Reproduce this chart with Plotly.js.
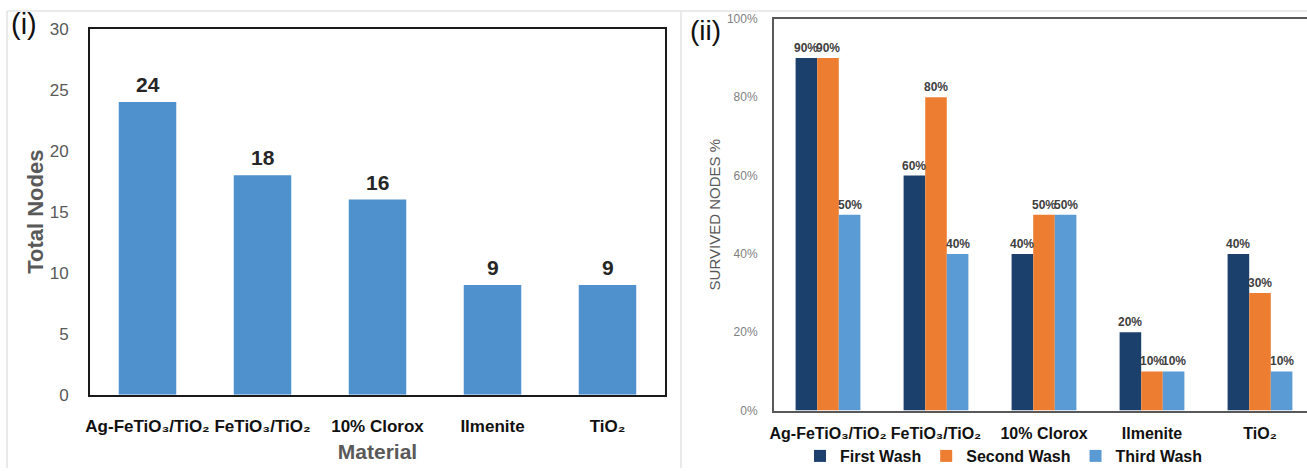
<!DOCTYPE html>
<html>
<head>
<meta charset="utf-8">
<script src="https://cdn.plot.ly/plotly-3.0.1.min.js"></script>
<style>html,body{margin:0;padding:0;background:#fff;}#chart{width:1307px;height:473px;}</style>
</head>
<body>
<div id="chart"></div>
<script>
// ---- data ----
const materials = ["Ag-FeTiO\u2083/TiO\u2082", "FeTiO\u2083/TiO\u2082", "10% Clorox", "Ilmenite", "TiO\u2082"];
const totalNodes = [24, 18, 16, 9, 9];
const washNames = ["First Wash", "Second Wash", "Third Wash"];
const firstWash = [90, 60, 40, 20, 40];
const secondWash = [90, 80, 50, 10, 30];
const thirdWash = [50, 40, 50, 10, 10];
const leftYTicks = [0, 5, 10, 15, 20, 25, 30];
const rightYTicks = [0, 20, 40, 60, 80, 100];

const W = 1307, H = 473;
const px = v => v / W;
const py = v => (H - v) / H;

const FONT = "Arial, 'Liberation Sans', 'DejaVu Sans', sans-serif";
const washColors = ["#1b406c", "#ed7d31", "#5b9bd5"];
const CAT_PX = 108;          // right panel category width in px
const BARGAP = 0.4;
const BAR_PX = CAT_PX * (1 - BARGAP) / 3;

const traces = [];
traces.push({
  type: "bar", x: materials, y: totalNodes, xaxis: "x", yaxis: "y",
  width: 0.5, marker: {color: "#4f91cd"}, showlegend: false,
  hoverinfo: "x+y"
});
const washData = [firstWash, secondWash, thirdWash];
washData.forEach((vals, i) => {
  traces.push({
    type: "bar", name: "<b>" + washNames[i] + "</b>", x: materials, y: vals, xaxis: "x2", yaxis: "y2",
    marker: {color: washColors[i]},
    hoverinfo: "x+y"
  });
});

// value labels
const annotations = [];
materials.forEach((m, j) => {
  annotations.push({
    text: "<b>" + totalNodes[j] + "</b>", x: m, y: totalNodes[j], xref: "x", yref: "y",
    xanchor: "center", yanchor: "bottom", yshift: 4, showarrow: false,
    font: {family: FONT, size: 21, color: "#262626"}
  });
});
washData.forEach((vals, i) => {
  vals.forEach((v, j) => {
    annotations.push({
      text: "<b>" + v + "%</b>", x: materials[j], y: v, xref: "x2", yref: "y2",
      xanchor: "center", yanchor: "bottom", xshift: (i - 1) * BAR_PX, yshift: 1, showarrow: false,
      font: {family: FONT, size: 12, color: "#404040"}
    });
  });
});
annotations.push(
  {text: "(i)", xref: "paper", yref: "paper", x: px(9), y: py(24), xanchor: "left", yanchor: "middle", showarrow: false, font: {family: FONT, size: 29, color: "#111"}},
  {text: "(ii)", xref: "paper", yref: "paper", x: px(688), y: py(31), xanchor: "left", yanchor: "middle", showarrow: false, font: {family: FONT, size: 28, color: "#111"}}
);

const layout = {
  width: W, height: H,
  margin: {l: 0, r: 0, t: 0, b: 0},
  paper_bgcolor: "#ffffff", plot_bgcolor: "#ffffff",
  barmode: "group", bargap: BARGAP, bargroupgap: 0,
  font: {family: FONT},
  showlegend: true,
  xaxis: {
    domain: [px(90), px(665)], anchor: "y",
    showline: true, mirror: true, linecolor: "#1a1a1a", linewidth: 2,
    ticks: "", ticklabelstandoff: 15,
    tickfont: {family: FONT, size: 17, color: "#111", weight: "bold"},
    title: {text: "Material", standoff: 9, font: {family: FONT, size: 21, color: "#595959", weight: "bold"}},
    fixedrange: true
  },
  yaxis: {
    domain: [py(399), py(29)], anchor: "x",
    range: [0, 30], tickvals: leftYTicks,
    showline: true, mirror: true, linecolor: "#1a1a1a", linewidth: 2,
    showgrid: false, zeroline: false, ticks: "", ticklabelstandoff: 16,
    tickfont: {family: FONT, size: 17, color: "#595959"},
    title: {text: "Total Nodes", standoff: 0, font: {family: FONT, size: 22, color: "#595959", weight: "bold"}},
    fixedrange: true
  },
  xaxis2: {
    domain: [px(774), 1], anchor: "y2",
    range: [-0.5, -0.5 + (W - 774) / CAT_PX],
    showline: true, mirror: true, linecolor: "#595959", linewidth: 2,
    ticks: "", ticklabelstandoff: 7,
    tickfont: {family: FONT, size: 16, color: "#111", weight: "bold"},
    fixedrange: true
  },
  yaxis2: {
    domain: [py(415), py(19)], anchor: "x2",
    range: [0, 100], tickvals: rightYTicks, ticktext: rightYTicks.map(v => v + "%"),
    showline: true, mirror: false, linecolor: "#595959", linewidth: 2,
    showgrid: false, zeroline: false, ticks: "", ticklabelstandoff: 12,
    tickfont: {family: FONT, size: 12, color: "#808080"},
    title: {text: "SURVIVED NODES %", standoff: 3, font: {family: FONT, size: 15, color: "#595959"}},
    fixedrange: true
  },
  legend: {
    orientation: "h", x: px(1004), xanchor: "center", y: py(461), yanchor: "middle",
    font: {family: FONT, size: 16, color: "#111"}, itemwidth: 30, tracegroupgap: 0,
    bgcolor: "rgba(0,0,0,0)"
  },
  shapes: [
    {type: "line", xref: "paper", yref: "paper", x0: px(7), x1: px(7), y0: py(11), y1: 0, line: {color: "#e3e3e3", width: 1.5}},
    {type: "line", xref: "paper", yref: "paper", x0: px(7), x1: 1, y0: py(11), y1: py(11), line: {color: "#e3e3e3", width: 1.5}},
    {type: "line", xref: "paper", yref: "paper", x0: px(681), x1: px(681), y0: py(11), y1: 0, line: {color: "#e3e3e3", width: 1.5}}
  ],
  annotations: annotations
};

Plotly.newPlot("chart", traces, layout, {displayModeBar: false, staticPlot: true});
</script>
</body>
</html>
